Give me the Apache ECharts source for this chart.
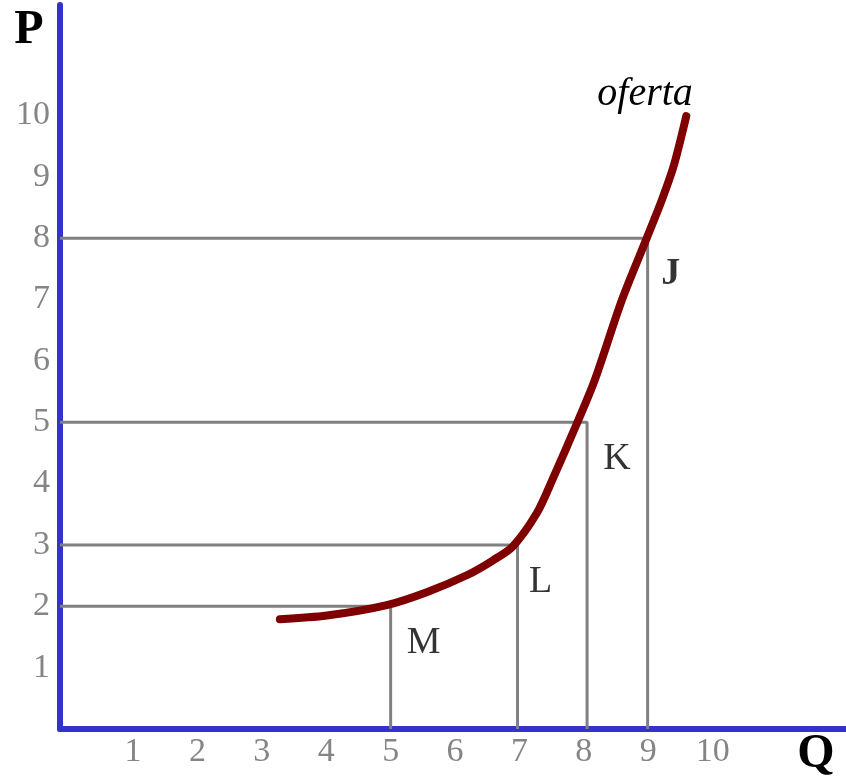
<!DOCTYPE html>
<html>
<head>
<meta charset="utf-8">
<script src="https://cdn.jsdelivr.net/npm/echarts@6/dist/echarts.min.js"></script>
<style>
html,body{margin:0;padding:0;background:#fff;}
#chart{width:846px;height:780px;}
</style>
</head>
<body>
<div id="chart"></div>
<script>
// Supply curve ("oferta")
const supplyQ = [3.28, 4.01, 4.94, 5.56, 6.19, 6.59, 6.90, 7.27, 7.51, 7.90, 8.17, 8.59, 8.98, 9.21, 9.39, 9.59];
const supplyP = [1.79, 1.85, 2.02, 2.23, 2.51, 2.75, 2.98, 3.52, 4.06, 5.00, 5.69, 6.99, 8.01, 8.62, 9.16, 9.99];
// Labelled points and their guide lines
const pointNames = ['M', 'L', 'K', 'J'];
const pointQ = [5, 6.97, 8.05, 8.99];
const pointP = [2, 3, 5, 8];
// Tick labels
const xTicks = [1, 2, 3, 4, 5, 6, 7, 8, 9, 10];
const yTicks = [1, 2, 3, 4, 5, 6, 7, 8, 9, 10];
const curveName = 'oferta';
const xTitle = 'Q';
const yTitle = 'P';

const X_MIN = -0.134, X_MAX = 12.07, Y_MIN = 0, Y_MAX = 11.8;
const serif = "'Liberation Serif', 'Times New Roman', serif";

const chart = echarts.init(document.getElementById('chart'), null, {renderer: 'canvas'});

const guideSeries = pointQ.map((q, i) => ({
  type: 'line',
  data: [[X_MIN, pointP[i]], [q, pointP[i]], [q, 0]],
  symbol: 'none',
  lineStyle: {color: '#808080', width: 3},
  silent: true,
  z: 2,
  animation: false
}));

const labelOffsets = [[33, 37], [23, 37], [30, 37], [23, 36]];

const option = {
  animation: false,
  grid: {left: 60, right: 0, top: 5, bottom: 51, containLabel: false},
  xAxis: {
    type: 'value', min: X_MIN, max: X_MAX,
    axisLine: {show: true, onZero: false, lineStyle: {color: '#3333cc', width: 6}},
    axisTick: {show: false},
    splitLine: {show: false},
    axisLabel: {
      customValues: xTicks,
      color: '#858585', fontFamily: serif, fontSize: 34, margin: 6
    }
  },
  yAxis: {
    type: 'value', min: Y_MIN, max: Y_MAX,
    axisLine: {show: true, onZero: false, lineStyle: {color: '#3333cc', width: 6}},
    axisTick: {show: false},
    splitLine: {show: false},
    axisLabel: {
      customValues: yTicks,
      color: '#858585', fontFamily: serif, fontSize: 34, margin: 10
    }
  },
  series: [
    ...guideSeries,
    {
      type: 'line',
      name: curveName,
      data: supplyQ.map((q, i) => [q, supplyP[i]]),
      smooth: 0.3,
      symbol: 'none',
      lineStyle: {color: '#7f0000', width: 8, cap: 'round', join: 'round'},
      z: 3,
      endLabel: {
        show: true,
        formatter: curveName,
        fontFamily: serif, fontStyle: 'italic', fontSize: 40, color: '#000',
        offset: [-97, -22]
      }
    },
    {
      type: 'scatter',
      data: pointQ.map((q, i) => ({
        value: [q, pointP[i]],
        label: {show: true, formatter: pointNames[i], offset: labelOffsets[i],
                position: 'inside', color: '#000', textBorderWidth: 0,
                fontFamily: serif, fontSize: 38,
                fontWeight: i === 3 ? 'bold' : 'normal'}
      })),
      symbolSize: 0,
      itemStyle: {color: '#000'},
      label: {position: 'inside', fontFamily: serif, fontSize: 38, color: '#000'},
      z: 4
    }
  ],
  graphic: [
    {type: 'text', x: 29, y: 31, style: {text: yTitle, font: "bold 48px " + serif, fill: '#000', align: 'center', verticalAlign: 'middle'}},
    {type: 'text', x: 816, y: 755, style: {text: xTitle, font: "bold 48px " + serif, fill: '#000', align: 'center', verticalAlign: 'middle'}}
  ]
};
chart.setOption(option);
</script>
</body>
</html>
